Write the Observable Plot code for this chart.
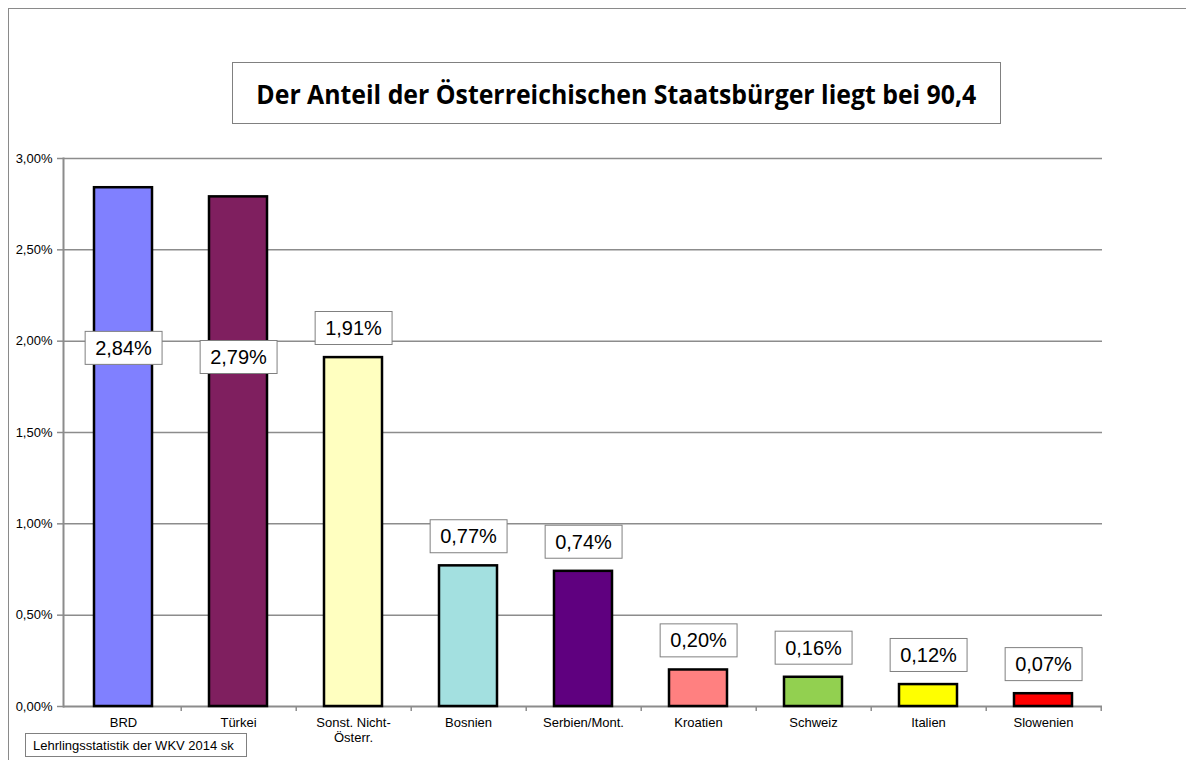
<!DOCTYPE html>
<html><head><meta charset="utf-8">
<script src="https://cdn.jsdelivr.net/npm/d3@7"></script>
<script src="https://cdn.jsdelivr.net/npm/@observablehq/plot@0.6"></script>
<style>
html,body{margin:0;padding:0;background:#fff;}
#wrap{position:relative;width:1186px;height:760px;overflow:hidden;font-family:"Liberation Sans",Arial,sans-serif;}
#chart{position:absolute;left:0;top:0;}
#border{position:absolute;left:8px;top:8px;width:1200px;height:800px;border-top:1px solid #8a8a8a;border-left:1px solid #8a8a8a;pointer-events:none;}
#title{position:absolute;left:232px;top:62px;width:767px;height:60px;border:1px solid #808080;background:#fff;display:flex;align-items:center;justify-content:center;overflow:hidden;}
#title span{font-family:"Open Sans","Noto Sans",sans-serif;font-weight:700;font-size:27px;white-space:nowrap;display:inline-block;transform-origin:center;color:#000;}
#caption{position:absolute;left:25px;top:733px;width:222px;height:24px;border:1px solid #808080;background:#fff;font-size:13px;line-height:23px;padding-left:7px;box-sizing:border-box;color:#000;white-space:nowrap;}
</style>
</head>
<body>
<div id="wrap">
  <div id="chart"></div>
  <div id="border"></div>
  <div id="title"><span>Der Anteil der Österreichischen Staatsbürger liegt bei 90,4</span></div>
  <div id="caption">Lehrlingsstatistik der WKV 2014 sk</div>
</div>
<script>
const categories = ["BRD", "Türkei", "Sonst. Nicht-Österr.", "Bosnien", "Serbien/Mont.", "Kroatien", "Schweiz", "Italien", "Slowenien"];
const tickLabels = ["BRD", "Türkei", "Sonst. Nicht-\nÖsterr.", "Bosnien", "Serbien/Mont.", "Kroatien", "Schweiz", "Italien", "Slowenien"];
const values = [0.0284, 0.0279, 0.0191, 0.0077, 0.0074, 0.0020, 0.0016, 0.0012, 0.0007];
const colors = ["#8080ff", "#7f1f5f", "#ffffc0", "#a3e0e0", "#5f007f", "#ff8080", "#92d050", "#ffff00", "#ff0000"];
const yTicks = [0, 0.005, 0.01, 0.015, 0.02, 0.025, 0.03];

const de = d3.formatLocale({decimal: ",", thousands: ".", grouping: [3], currency: ["", " €"]});
const pct = de.format(".2%");

const data = categories.map((c, i) => ({cat: c, value: values[i], color: colors[i]}));

const W = 1186, H = 760, ML = 63, MR = 84, MT = 158, MB = 54;
const step = (W - ML - MR) / categories.length;
const tickLen = 5 * 0.03 / (H - MT - MB); // 5px expressed in y units
const grid = "#8c8c8c";

const chart = Plot.plot({
  width: W, height: H,
  marginLeft: ML, marginRight: MR, marginTop: MT, marginBottom: MB,
  style: {fontFamily: '"Liberation Sans", Arial, sans-serif', fontSize: "13px", color: "black", background: "transparent"},
  x: {domain: categories, paddingInner: 0.5, paddingOuter: 0.25},
  y: {domain: [0, 0.03]},
  color: {type: "identity"},
  marks: [
    Plot.ruleY(yTicks.slice(1), {stroke: grid, strokeWidth: 1.5}),
    Plot.axisY({ticks: yTicks, tickFormat: pct, tickSize: 6, tickPadding: 5, stroke: grid, strokeWidth: 1.5, fill: "black", fontSize: 13, label: null}),
    Plot.axisX({tickSize: 0, tickPadding: 9, tickFormat: d => tickLabels[categories.indexOf(d)], fill: "black", fontSize: 13, lineHeight: 1.2, label: null}),
    Plot.ruleX(categories, {x: d => d, y1: 0, y2: -tickLen, dx: step / 2, stroke: grid, strokeWidth: 1.5}),
    Plot.frame({anchor: "left", stroke: grid, strokeWidth: 2}),
    Plot.ruleY([0], {stroke: grid, strokeWidth: 2}),
    Plot.barY(data, {x: "cat", y: "value", fill: "color", stroke: "black", strokeWidth: 2.5}),
    Plot.text(data.filter(d => d.value > 0.025), {x: "cat", y: d => d.value - 0.0088, text: d => pct(d.value), fontSize: 20, fill: "black"}),
    Plot.text(data.filter(d => d.value <= 0.025), {x: "cat", y: "value", dy: -29, text: d => pct(d.value), fontSize: 20, fill: "black"})
  ]
});
document.getElementById("chart").append(chart);

// label boxes
chart.querySelectorAll('g[aria-label="text"] text').forEach(t => {
  const bb = t.getBBox();
  const r = document.createElementNS("http://www.w3.org/2000/svg", "rect");
  const cy = bb.y + bb.height / 2;
  r.setAttribute("x", bb.x - 10);
  r.setAttribute("y", cy - 16.5);
  r.setAttribute("width", bb.width + 20);
  r.setAttribute("height", 33);
  r.setAttribute("fill", "white");
  r.setAttribute("stroke", "#808080");
  r.setAttribute("stroke-width", 1);
  if (t.getAttribute("transform")) r.setAttribute("transform", t.getAttribute("transform"));
  t.parentNode.insertBefore(r, t);
});

// fit title width
const span = document.querySelector("#title span");
const w = span.getBoundingClientRect().width;
span.style.transform = `scaleX(${720 / w})`;
</script>
</body></html>
